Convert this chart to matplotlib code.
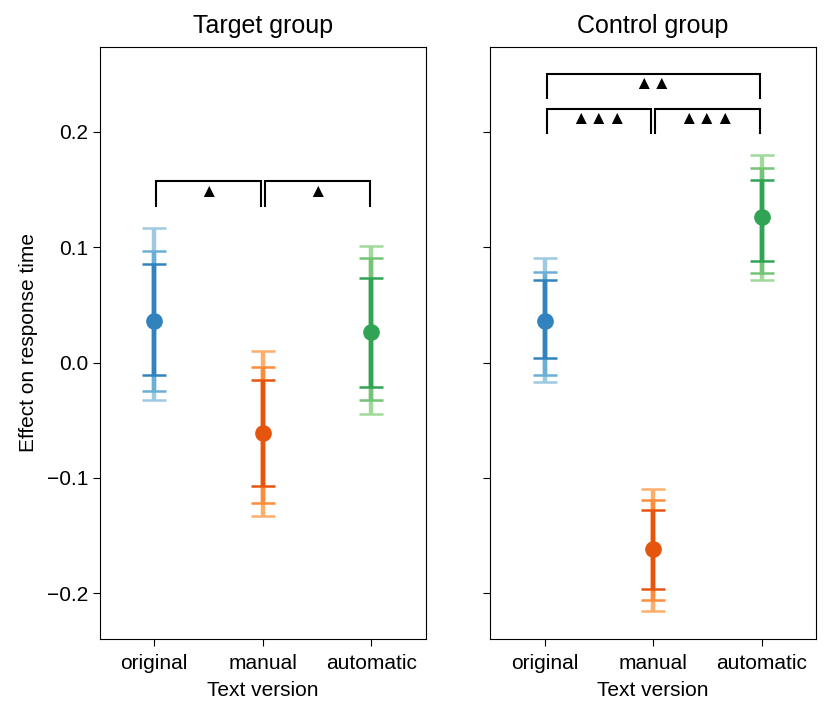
import matplotlib
matplotlib.use('Agg')
import matplotlib.pyplot as plt
import numpy as np

plt.rcParams['font.family'] = ['Liberation Sans', 'DejaVu Sans']

versions = ['original', 'manual', 'automatic']
groups = ['Target group', 'Control group']

# point estimates and three nested intervals (inner, middle, outer)
target_mean = [0.0357, -0.0608, 0.0264]
target_inner_lo = [-0.0111, -0.1073, -0.0210]
target_inner_hi = [0.0854, -0.0149, 0.0735]
target_mid_lo = [-0.0250, -0.1220, -0.0322]
target_mid_hi = [0.0964, -0.0039, 0.0903]
target_outer_lo = [-0.0325, -0.1330, -0.0444]
target_outer_hi = [0.1166, 0.0102, 0.1007]

control_mean = [0.0363, -0.1616, 0.1263]
control_inner_lo = [0.0036, -0.1962, 0.0877]
control_inner_hi = [0.0712, -0.1278, 0.1584]
control_mid_lo = [-0.0111, -0.2054, 0.0773]
control_mid_hi = [0.0784, -0.1189, 0.1685]
control_outer_lo = [-0.0172, -0.2153, 0.0715]
control_outer_hi = [0.0909, -0.1096, 0.1801]

# significance brackets: (from, to, height, label)
target_brackets = [(0, 1, 0.157, '\u25b2'), (1, 2, 0.157, '\u25b2')]
control_brackets = [(0, 1, 0.220, '\u25b2\u25b2\u25b2'), (1, 2, 0.220, '\u25b2\u25b2\u25b2'),
                    (0, 2, 0.250, '\u25b2\u25b2')]

# tab20c shades: dark, mid, light
shades = [['#3182bd', '#6baed6', '#9ecae1'],
          ['#e6550d', '#fd8d3c', '#fdae6b'],
          ['#31a354', '#74c476', '#a1d99b']]

data = [
    (target_mean, (target_inner_lo, target_inner_hi), (target_mid_lo, target_mid_hi),
     (target_outer_lo, target_outer_hi), target_brackets),
    (control_mean, (control_inner_lo, control_inner_hi), (control_mid_lo, control_mid_hi),
     (control_outer_lo, control_outer_hi), control_brackets),
]

fig, axes = plt.subplots(1, 2, figsize=(8.31, 7.18), dpi=100, sharey=True)
fig.subplots_adjust(left=0.1203, right=0.982, top=0.935, bottom=0.1105, wspace=0.198)

for ax, title, (mean, inner, mid, outer, brackets) in zip(axes, groups, data):
    x = np.arange(len(versions))
    for i in range(len(versions)):
        for level, (lo, hi) in zip([2, 1, 0], [outer, mid, inner]):
            err = np.array([[mean[i] - lo[i]], [hi[i] - mean[i]]])
            ax.errorbar(x[i], mean[i], yerr=err, fmt='none', ecolor=shades[i][level],
                        elinewidth=3.2, capsize=8.6, capthick=1.8)
        ax.plot(x[i], mean[i], 'o', color=shades[i][0], markersize=11, zorder=5)

    for a, b, h, lab in brackets:
        leg = 0.021
        off = 0.018
        ax.plot([a + off, a + off, b - off, b - off], [h - leg, h, h, h - leg],
                color='black', lw=1.5, solid_joinstyle='miter')
        ax.text((a + b) / 2, h - 0.0095, lab, ha='center', va='center', fontsize=13.5)

    ax.set_title(title, fontsize=18, pad=10)
    ax.set_xticks(x)
    ax.set_xticklabels(versions, fontsize=15)
    ax.set_xlabel('Text version', fontsize=15, labelpad=6)
    ax.set_xlim(-0.5, 2.5)
    ax.tick_params(axis='both', labelsize=15, length=5)
    ax.tick_params(axis='x', pad=6)

axes[0].set_ylim(-0.2393, 0.2737)
axes[0].set_yticks([-0.2, -0.1, 0.0, 0.1, 0.2])
axes[0].set_ylabel('Effect on response time', fontsize=15, labelpad=6)

fig.savefig('out.png', dpi=100)
